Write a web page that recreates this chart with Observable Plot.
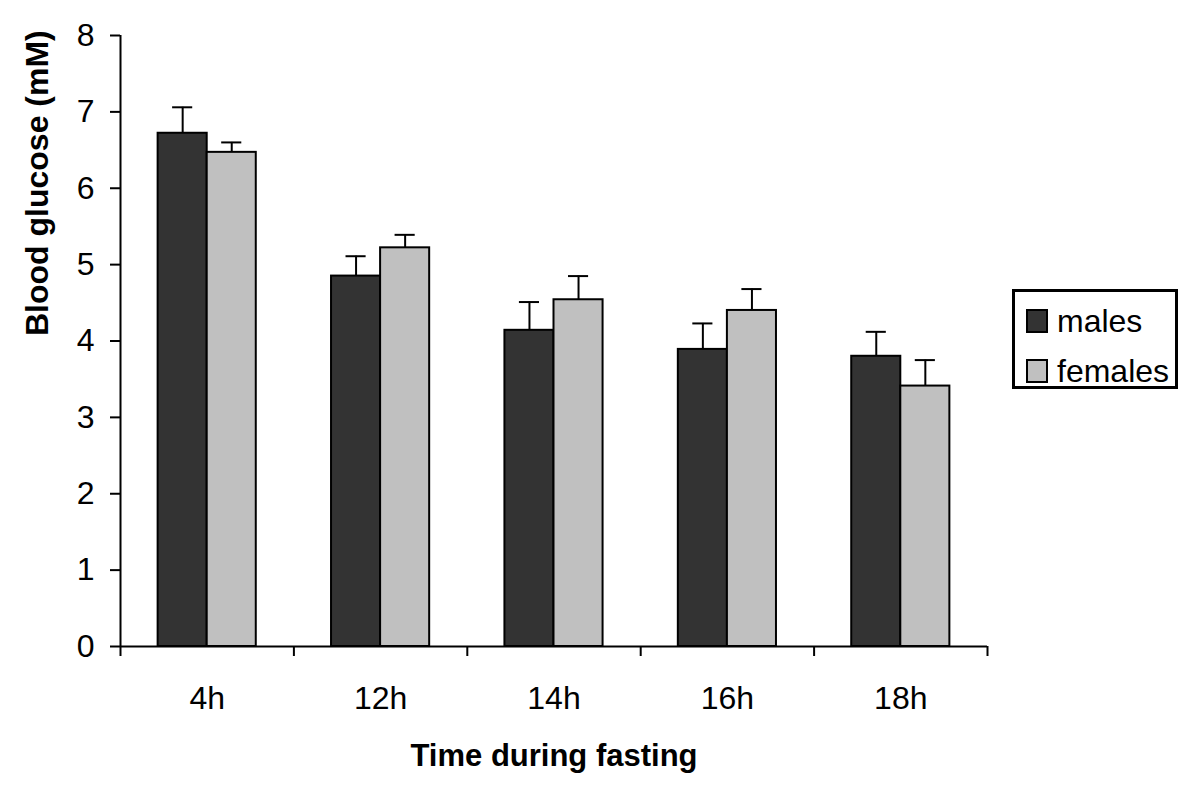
<!DOCTYPE html>
<html>
<head>
<meta charset="utf-8">
<script src="https://cdn.jsdelivr.net/npm/d3@7"></script>
<script src="https://cdn.jsdelivr.net/npm/@observablehq/plot@0.6"></script>
<style>
  html, body { margin: 0; padding: 0; background: #fff; }
  #wrap { position: relative; width: 1200px; height: 795px; font-family: "Liberation Sans", Arial, sans-serif; }
  #legend { position: absolute; left: 1012px; top: 289px; width: 160px; height: 94px; border: 3px solid #000; background: #fff; }
  .item { position: absolute; left: 11px; height: 34px; display: flex; align-items: center; font-size: 32px; color: #000; }
  .sw { width: 18px; height: 20px; border: 2px solid #000; margin-right: 9px; }
</style>
</head>
<body>
<div id="wrap"></div>
<script>
// ---- data ----
const categories = ["4h", "12h", "14h", "16h", "18h"];
const series = ["males", "females"];
const colors = ["#333333", "#c0c0c0"];
const males = [6.72, 4.85, 4.14, 3.89, 3.80];
const malesErr = [0.34, 0.26, 0.37, 0.34, 0.32];
const females = [6.47, 5.22, 4.54, 4.40, 3.41];
const femalesErr = [0.13, 0.17, 0.31, 0.28, 0.34];
const yTicks = [0, 1, 2, 3, 4, 5, 6, 7, 8];
const xLabel = "Time during fasting";
const yLabel = "Blood glucose (mM)";

// ---- table ----
const rows = [];
categories.forEach((c, i) => {
  rows.push({time: c, i, s: 0, sex: series[0], value: males[i], err: malesErr[i]});
  rows.push({time: c, i, s: 1, sex: series[1], value: females[i], err: femalesErr[i]});
});

// layout constants (in band units of the x scale)
const BAR = 0.283;   // bar width
const CAP = 0.058;   // half cap width
const barLeft = d => d.i + 0.5 + (d.s === 0 ? -BAR : 0);
const barRight = d => d.i + 0.5 + (d.s === 0 ? 0 : BAR);
const barMid = d => d.i + 0.5 + (d.s === 0 ? -BAR / 2 : BAR / 2);
const errTop = d => d.value + d.err;

const font = "'Liberation Sans', Arial, sans-serif";

const chart = Plot.plot({
  width: 1200,
  height: 795,
  marginLeft: 120,
  marginRight: 213,
  marginTop: 35,
  marginBottom: 149,
  style: {fontFamily: font, background: "#fff", color: "#000"},
  x: {type: "linear", domain: [0, categories.length], axis: null},
  y: {domain: [0, 8], axis: null},
  color: {domain: series, range: colors},
  marks: [
    // error bars
    Plot.ruleX(rows, {x: barMid, y1: "value", y2: errTop, stroke: "#000", strokeWidth: 2}),
    Plot.ruleY(rows, {y: errTop, x1: d => barMid(d) - CAP, x2: d => barMid(d) + CAP, stroke: "#000", strokeWidth: 2}),
    // bars
    Plot.rectY(rows, {x1: barLeft, x2: barRight, y1: 0, y2: "value", fill: "sex", stroke: "#000", strokeWidth: 2}),
    // axes
    Plot.axisY({ticks: yTicks, tickSize: 10, tickPadding: 16, fontSize: 32, tickFormat: d => String(d), label: null, strokeWidth: 2}),
    Plot.axisX({ticks: d3.range(0, categories.length + 1), tickSize: 10, tickFormat: () => "", label: null, strokeWidth: 2}),
    Plot.axisX({ticks: categories.map((_, i) => i + 0.5), tickSize: 0, tickPadding: 40, fontSize: 32, tickFormat: v => categories[Math.floor(v)], label: null}),
    Plot.ruleX([0], {stroke: "#000", strokeWidth: 2}),
    Plot.ruleY([0], {stroke: "#000", strokeWidth: 2}),
    // titles
    Plot.text([yLabel], {text: d => d, frameAnchor: "left", rotate: -90, dx: -83, dy: -5, fontSize: 32, fontWeight: "bold", fill: "#000"}),
    Plot.text([xLabel], {text: d => d, frameAnchor: "bottom", dy: 119, fontSize: 31, fontWeight: "bold", fill: "#000"})
  ]
});

const wrap = document.getElementById("wrap");
wrap.appendChild(chart);

// legend
const legend = document.createElement("div");
legend.id = "legend";
series.forEach((s, k) => {
  const item = document.createElement("div");
  item.className = "item";
  item.style.top = (k === 0 ? 12 : 62) + "px";
  const sw = document.createElement("span");
  sw.className = "sw";
  sw.style.background = colors[k];
  item.appendChild(sw);
  item.appendChild(document.createTextNode(s));
  legend.appendChild(item);
});
wrap.appendChild(legend);
</script>
</body>
</html>
